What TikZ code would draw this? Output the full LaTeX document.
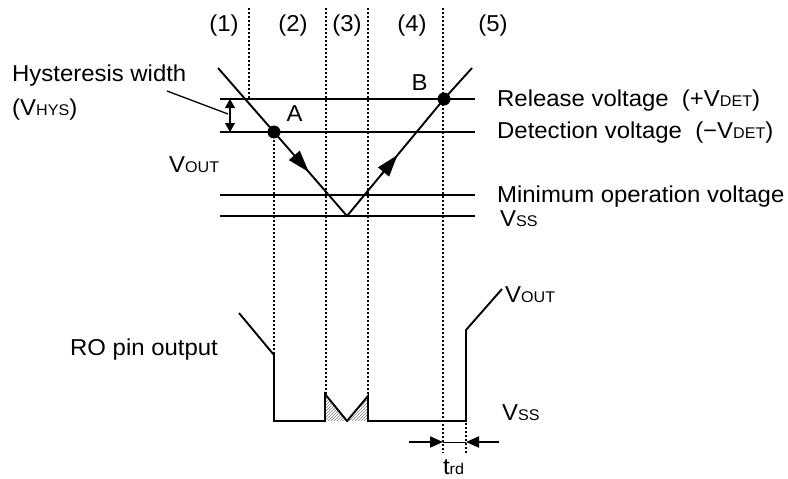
\documentclass[tikz,border=0pt]{standalone}
\usepackage{fontspec}
\setmainfont{Liberation Sans}[FakeStretch=1.04]
\usetikzlibrary{arrows.meta,patterns,calc}
\newcommand{\lowsub}[1]{\raisebox{-0.6pt}{\fontsize{15.5}{16}\selectfont #1}}
\begin{document}
\begin{tikzpicture}[x=1pt,y=-1pt,
  lbl/.style={inner sep=0pt, font=\fontsize{23}{26}\selectfont},
  solidline/.style={line width=1.9pt},
  thinline/.style={line width=1.3pt},
  dotline/.style={line width=1.9pt, dash pattern=on 1.9pt off 2.1pt},
  dirtip/.style={line width=1.9pt, -{Triangle[length=22pt,width=14pt]}},
  trdtip/.style={line width=1.9pt, -{Triangle[length=13pt,width=11pt]}},
  hystip/.style={line width=1.3pt, {Triangle[length=9pt,width=10pt]}-{Triangle[length=9pt,width=10pt]}},
  dotpt/.style={circle, fill=black, inner sep=0pt, minimum size=13pt},
  hatch/.style={pattern=north east lines, pattern color=gray}
]
\useasboundingbox (0,0) rectangle (788,479);

% ---- coordinates of upper graph
\coordinate (relL) at (220,99);  \coordinate (relR) at (475,99);
\coordinate (detL) at (220,132); \coordinate (detR) at (475,132);
\coordinate (minL) at (220,195); \coordinate (minR) at (475,195);
\coordinate (vssL) at (220,216); \coordinate (vssR) at (475,216);
\coordinate (vstart) at (218,68);
\coordinate (A) at (274,132);
\coordinate (bot) at (347,216);
\coordinate (B) at (444,99);
\coordinate (vend) at (472,68);

% horizontal level lines
\draw[solidline] (relL) -- (relR);
\draw[solidline] (detL) -- (detR);
\draw[solidline] (minL) -- (minR);
\draw[solidline] (vssL) -- (vssR);

% V-shaped supply curve
\draw[solidline] (vstart) -- (A) -- (bot) -- (B) -- (vend);
\draw[dirtip] ($(A)!0.3!(bot)$) -- ($(A)!0.476!(bot)$);
\draw[dirtip] ($(bot)!0.35!(B)$) -- ($(bot)!0.521!(B)$);

% ---- bottom waveform
\coordinate (w0) at (239,313);
\coordinate (w1) at (274,355);
\coordinate (w2) at (274,421);
\coordinate (w3) at (325,421);
\coordinate (w4) at (325,394);
\coordinate (w5) at (347,421);
\coordinate (w6) at (368,396);
\coordinate (w7) at (368,421);
\coordinate (w8) at (466,421);
\coordinate (w9) at (466,330);
\coordinate (w10) at (502,289);
\fill[hatch] (w3) -- (w4) -- (w5) -- cycle;
\fill[hatch] (w5) -- (w6) -- (w7) -- cycle;
\draw[solidline, line join=miter] (w0) -- (w1) -- (w2) -- (w3) -- (w4) -- (w5) -- (w6) -- (w7) -- (w8) -- (w9) -- (w10);

% ---- dotted time dividers
\coordinate (d1t) at (249,8);   \coordinate (d1b) at (249,99);
\coordinate (d3t) at (326,8);   \coordinate (d3b) at (326,394);
\coordinate (d4t) at (368,8);   \coordinate (d4b) at (368,396);
\coordinate (d5t) at (443,8);   \coordinate (d5b) at (443,453);
\coordinate (d6t) at (466,423); \coordinate (d6b) at (466,453);
\draw[dotline] (d1t) -- (d1b);
\draw[dotline] (A) -- (w1);
\draw[dotline] (d3t) -- (d3b);
\draw[dotline] (d4t) -- (d4b);
\draw[dotline] (d5t) -- (d5b);
\draw[dotline] (d6t) -- (d6b);

% points A and B
\node[dotpt] (Adot) at (A) {};
\node[dotpt] (Bdot) at (B) {};

% hysteresis width marker
\coordinate (hysT) at (230,99);
\coordinate (hysB) at (230,132);
\coordinate (lead0) at (167,91);
\coordinate (lead1) at (228,114);
\draw[hystip] (hysT) -- (hysB);
\draw[thinline] (lead0) -- (lead1);

% t_rd marker
\coordinate (trdL0) at (409,442); \coordinate (trdL1) at (443,442);
\coordinate (trdR0) at (499,442); \coordinate (trdR1) at (466,442);
\draw[trdtip] (trdL0) -- (trdL1);
\draw[trdtip] (trdR0) -- (trdR1);
\draw[line width=0.8pt] (trdL1) -- (trdR1);

% ---- labels
\node[lbl, anchor=base] (n1) at (224,31.5) {(1)};
\node[lbl, anchor=base] (n2) at (293,31.5) {(2)};
\node[lbl, anchor=base] (n3) at (347,31.5) {(3)};
\node[lbl, anchor=base] (n4) at (412,31.5) {(4)};
\node[lbl, anchor=base] (n5) at (493,31.5) {(5)};

\node[lbl, anchor=base west] (hyst) at (12,81) {Hysteresis width};
\node[lbl, anchor=base west] (vhys) at (12,115) {(V\lowsub{HYS})};
\node[lbl, anchor=base] (lA) at (294.5,121) {A};
\node[lbl, anchor=base] (lB) at (419.5,90) {B};
\node[lbl, anchor=base west] (vout1) at (169,172) {V\lowsub{OUT}};

\node[lbl, anchor=base west] (rel) at (497,106) {Release voltage\ \ (+V\lowsub{DET})};
\node[lbl, anchor=base west] (det) at (497,138) {Detection voltage\ \ (−V\lowsub{DET})};
\node[lbl, anchor=base west] (minop) at (497,202) {Minimum operation voltage};
\node[lbl, anchor=base west] (vss1) at (500,226) {V\lowsub{SS}};

\node[lbl, anchor=base west] (ro) at (70,355) {RO pin output};
\node[lbl, anchor=base west] (vout2) at (505,302) {V\lowsub{OUT}};
\node[lbl, anchor=base west] (vss2) at (502,420) {V\lowsub{SS}};
\node[lbl, anchor=base] (trd) at (453.5,474.5) {t{\fontsize{15.5}{16}\selectfont rd}};
\end{tikzpicture}
\end{document}
